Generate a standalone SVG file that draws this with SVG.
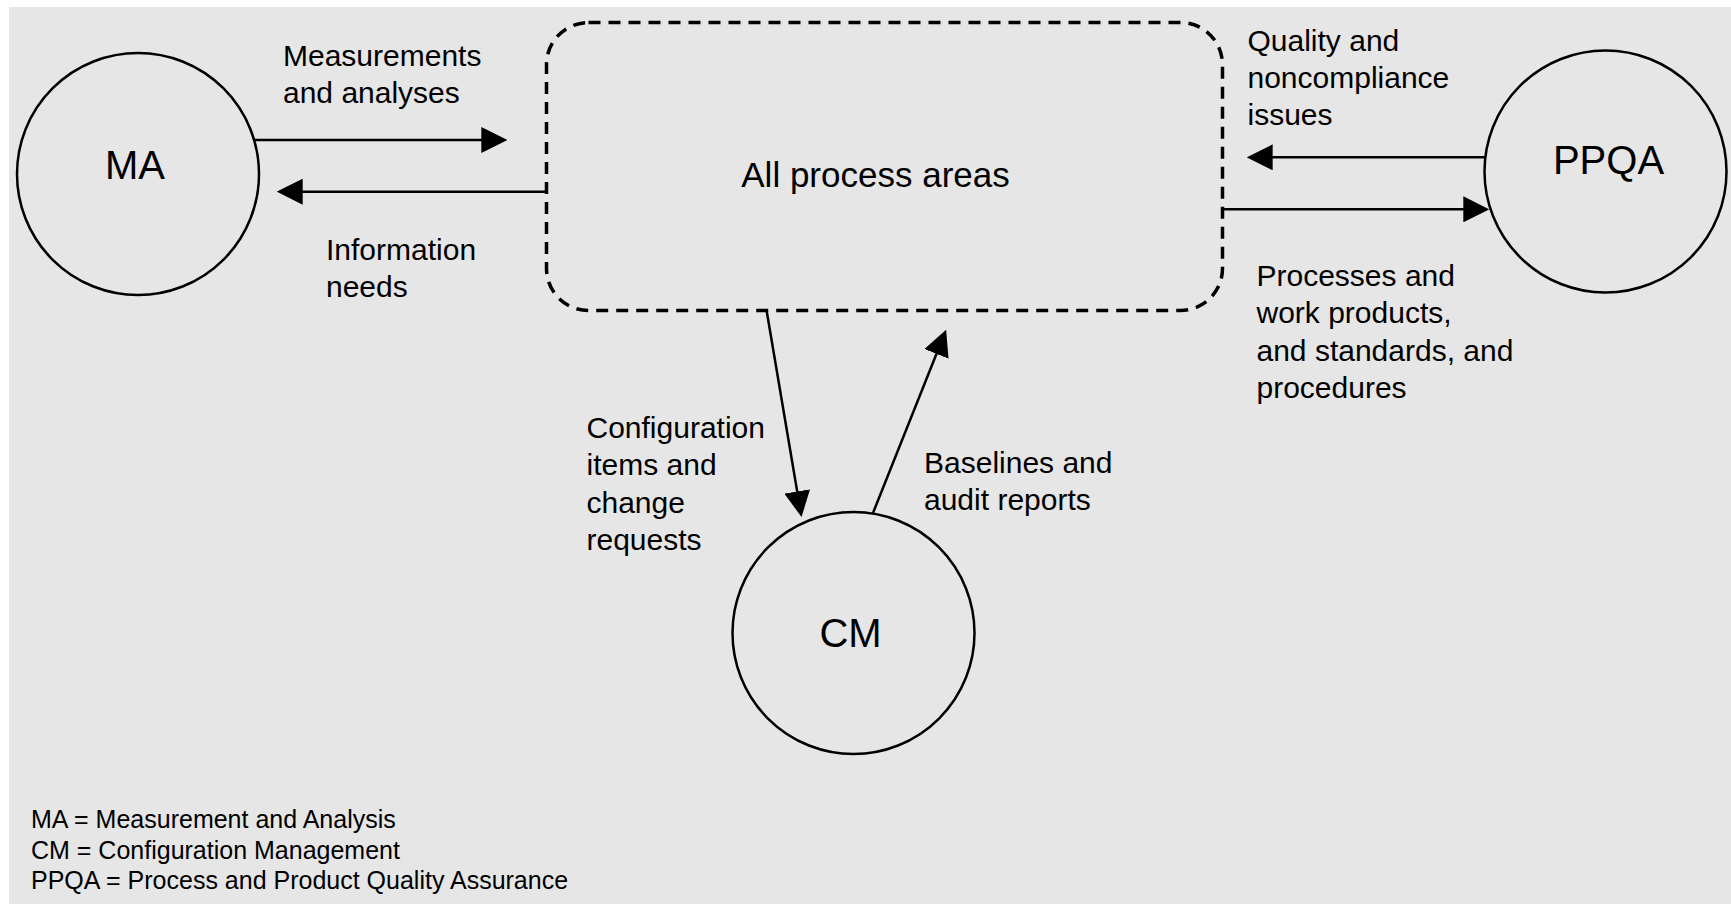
<svg xmlns="http://www.w3.org/2000/svg" width="1731" height="904" viewBox="0 0 1731 904">
  <style>
    .node { fill: none; stroke: #000; stroke-width: 2.5; }
    .box { fill: none; stroke: #000; stroke-width: 3.5; stroke-dasharray: 12 8; }
    .conn { stroke: #000; stroke-width: 2.5; fill: none; }
    .lbl { font-family: "Liberation Sans", Arial, sans-serif; font-size: 30px; fill: #000; }
    .big { font-family: "Liberation Sans", Arial, sans-serif; font-size: 40px; fill: #000; text-anchor: middle; }
    .main { font-family: "Liberation Sans", Arial, sans-serif; font-size: 35px; fill: #000; text-anchor: middle; }
    .legend { font-family: "Liberation Sans", Arial, sans-serif; font-size: 25px; fill: #000; }
  </style>
  <defs>
    <marker id="arrow" markerUnits="userSpaceOnUse" markerWidth="26" markerHeight="26" viewBox="0 0 24 24" refX="20" refY="12" orient="auto">
      <path d="M0,0 L24,12 L0,24 z" fill="#000"/>
    </marker>
  </defs>

  <rect x="9" y="7" width="1722" height="897" fill="#e6e6e6"/>

  <g id="all-process-areas">
    <rect class="box" x="546.5" y="22.5" width="676" height="288" rx="42" ry="42"/>
    <text class="main" x="875.5" y="186.5">All process areas</text>
  </g>

  <g id="ma">
    <circle class="node" cx="138" cy="174" r="121"/>
    <text class="big" x="135" y="179">MA</text>
  </g>

  <g id="ppqa">
    <circle class="node" cx="1605.5" cy="171.5" r="121"/>
    <text class="big" x="1608.5" y="173.5">PPQA</text>
  </g>

  <g id="cm">
    <circle class="node" cx="853.5" cy="633" r="121"/>
    <text class="big" x="850.5" y="647">CM</text>
  </g>

  <g id="connectors">
    <line class="conn" x1="254" y1="140" x2="503" y2="140" marker-end="url(#arrow)"/>
    <line class="conn" x1="547" y1="191.7" x2="281" y2="191.7" marker-end="url(#arrow)"/>
    <line class="conn" x1="1485" y1="157.3" x2="1251" y2="157.3" marker-end="url(#arrow)"/>
    <line class="conn" x1="1222" y1="209.3" x2="1485" y2="209.3" marker-end="url(#arrow)"/>
    <line class="conn" x1="766.5" y1="310" x2="800.8" y2="512.8" marker-end="url(#arrow)"/>
    <line class="conn" x1="873" y1="513" x2="944.5" y2="333.7" marker-end="url(#arrow)"/>
  </g>

  <g id="labels">
    <text class="lbl" x="283" y="66">Measurements</text>
    <text class="lbl" x="283" y="102.5">and analyses</text>
    <text class="lbl" x="326" y="259.5">Information</text>
    <text class="lbl" x="326" y="297">needs</text>
    <text class="lbl" x="1247.5" y="51">Quality and</text>
    <text class="lbl" x="1247.5" y="88">noncompliance</text>
    <text class="lbl" x="1247.5" y="125">issues</text>
    <text class="lbl" x="1256.5" y="286">Processes and</text>
    <text class="lbl" x="1256.5" y="323">work products,</text>
    <text class="lbl" x="1256.5" y="360.5">and standards, and</text>
    <text class="lbl" x="1256.5" y="398">procedures</text>
    <text class="lbl" x="586.5" y="438">Configuration</text>
    <text class="lbl" x="586.5" y="475">items and</text>
    <text class="lbl" x="586.5" y="512.5">change</text>
    <text class="lbl" x="586.5" y="550">requests</text>
    <text class="lbl" x="924" y="472.5">Baselines and</text>
    <text class="lbl" x="924" y="509.5">audit reports</text>
  </g>

  <g id="legend">
    <text class="legend" x="31" y="828">MA = Measurement and Analysis</text>
    <text class="legend" x="31" y="858.5">CM = Configuration Management</text>
    <text class="legend" x="31" y="889">PPQA = Process and Product Quality Assurance</text>
  </g>
</svg>
